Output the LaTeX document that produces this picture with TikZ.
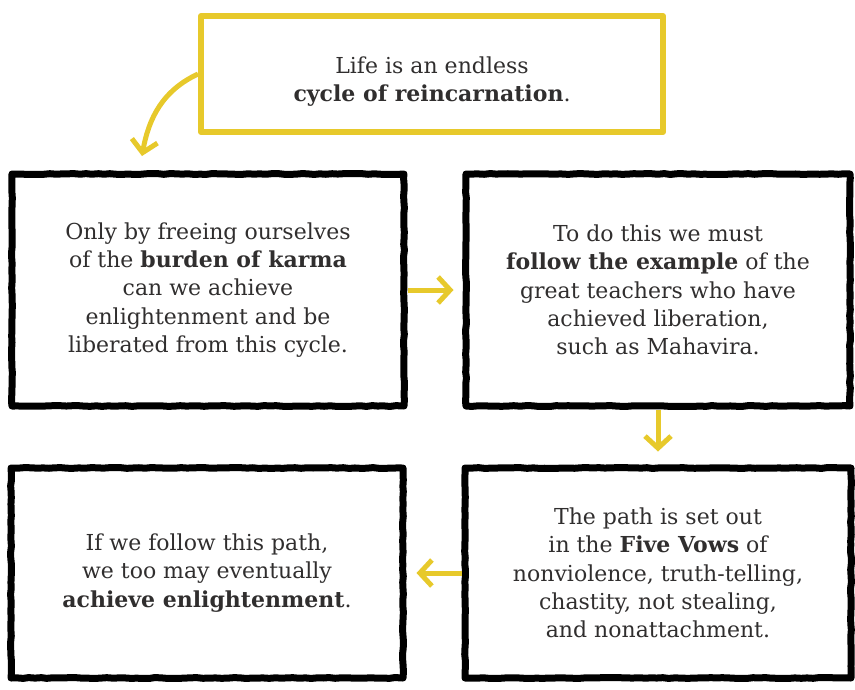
\documentclass[tikz,border=0pt]{standalone}
\usepackage{amsmath,amssymb}
\usepackage{fontspec}
\setmainfont{DejaVu Serif}
\usepackage{tikz}
\usetikzlibrary{positioning,arrows.meta,decorations.pathmorphing}

\definecolor{vowyellow}{RGB}{231,201,43}
\definecolor{inkgray}{RGB}{48,46,46}

\begin{document}
\pgfmathsetseed{11}
\begin{tikzpicture}[x=1pt, y=1pt, node distance={55pt}, line join=round,
    txt/.style = {align=center, text=inkgray, font=\fontsize{22}{28.3}\selectfont},
    main/.style = {txt, draw=black, line width=7pt, minimum width=392pt,
        decorate, decoration={random steps, segment length=6pt, amplitude=0.45pt}},
    intro/.style = {txt, draw=vowyellow, line width=6pt, minimum width=462pt, minimum height=116pt},
    arr/.style = {->, >={Straight Barb[length=12pt, width=26pt]}, draw=vowyellow, line width=5pt}]
        \useasboundingbox (0,0) rectangle (855,-689);

        \node[intro] (cycle) at (432,-74) {\rule{0pt}{32pt}Life is an endless\\ \textbf{cycle of reincarnation}.};
        \node[main, minimum height=232pt] (karma) at (208,-290) {Only by freeing ourselves\\ of the \textbf{burden of karma}\\ can we achieve\\ enlightenment and be\\ liberated from this cycle.};
        \node[main, minimum height=232pt, minimum width=384pt] (example) [right=of karma] {To do this we must\\ \textbf{follow the example} of the\\ great teachers who have\\ achieved liberation,\\ such as Mahavira.};
        \node[main, minimum height=210pt, minimum width=386pt] (vows) [below=of example] {The path is set out\\ in the \textbf{Five Vows} of\\ nonviolence, truth-telling,\\ chastity, not stealing,\\ and nonattachment.};
        \node[main, minimum height=210pt] (goal) [left=of vows] {If we follow this path,\\ we too may eventually\\ \textbf{achieve enlightenment}.};

        \coordinate (land) at (142,-156);

        % \draw[arr] (cycle) -- (karma);
        \draw[arr] (cycle.west) to [out=205, in=80] (land);
        \draw[arr, shorten >=9pt] (karma) -- (example);
        \draw[arr, shorten >=13pt] (example) -- (vows);
        \draw[arr, shorten >=10pt] (vows) -- (goal);

    \end{tikzpicture}
\end{document}
